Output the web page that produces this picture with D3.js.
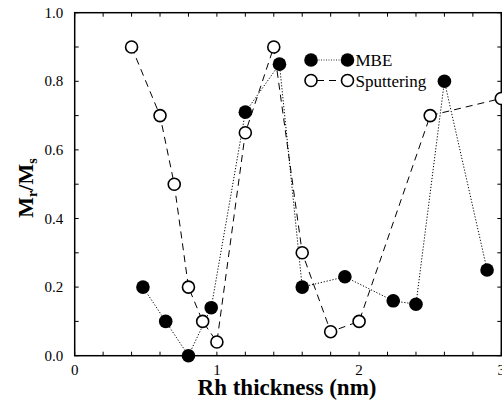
<!DOCTYPE html>
<html>
<head>
<meta charset="utf-8">
<script src="https://cdn.jsdelivr.net/npm/d3@7"></script>
<style>
  html, body { margin: 0; padding: 0; background: #fff; overflow: hidden; }
  svg { display: block; }
  text { font-family: "Liberation Serif", "DejaVu Serif", serif; }
</style>
</head>
<body>
<svg id="chart" width="502" height="404"></svg>
<script>
// Remanence ratio vs. Rh spacer thickness for two growth methods
const mbeThickness = [0.48, 0.64, 0.80, 0.96, 1.20, 1.44, 1.60, 1.90, 2.24, 2.40, 2.60, 2.90];
const mbeRatio     = [0.20, 0.10, 0.00, 0.14, 0.71, 0.85, 0.20, 0.23, 0.16, 0.15, 0.80, 0.25];

const sputThickness = [0.40, 0.60, 0.70, 0.80, 0.90, 1.00, 1.20, 1.40, 1.60, 1.80, 2.00, 2.50, 3.00];
const sputRatio     = [0.90, 0.70, 0.50, 0.20, 0.10, 0.04, 0.65, 0.90, 0.30, 0.07, 0.10, 0.70, 0.75];

const xTickLabels = [0, 1, 2, 3];
const yTickLabels = [0.0, 0.2, 0.4, 0.6, 0.8, 1.0];

const svg = d3.select("#chart");
const plotL = 74.7, plotR = 501.3, plotT = 12.7, plotB = 355.7;

const x = d3.scaleLinear().domain([0, 3]).range([plotL, plotR]);
const y = d3.scaleLinear().domain([0, 1]).range([plotB, plotT]);

// Frame
svg.append("rect")
  .attr("x", plotL).attr("y", plotT)
  .attr("width", plotR - plotL).attr("height", plotB - plotT)
  .attr("fill", "none").attr("stroke", "#000").attr("stroke-width", 1.5);

// Inward ticks on all four sides
const xMinor = d3.range(0, 3.0001, 0.2);
const yMinor = d3.range(0, 1.0001, 0.1);
const tickLen = 4;
const tg = svg.append("g").attr("stroke", "#000").attr("stroke-width", 1);
xMinor.forEach(v => {
  tg.append("line").attr("x1", x(v)).attr("x2", x(v)).attr("y1", plotB).attr("y2", plotB - tickLen);
  tg.append("line").attr("x1", x(v)).attr("x2", x(v)).attr("y1", plotT).attr("y2", plotT + tickLen);
});
yMinor.forEach(v => {
  tg.append("line").attr("y1", y(v)).attr("y2", y(v)).attr("x1", plotL).attr("x2", plotL + tickLen);
  tg.append("line").attr("y1", y(v)).attr("y2", y(v)).attr("x1", plotR).attr("x2", plotR - tickLen);
});

// Tick labels
svg.append("g").selectAll("text").data(xTickLabels).join("text")
  .attr("x", d => x(d)).attr("y", plotB + 19)
  .attr("text-anchor", "middle").attr("font-size", 15)
  .text(d => d);
svg.append("g").selectAll("text").data(yTickLabels).join("text")
  .attr("x", plotL - 11.5).attr("y", d => y(d) + 5)
  .attr("text-anchor", "end").attr("font-size", 15)
  .text(d => d.toFixed(1));

// Axis titles
svg.append("text")
  .attr("x", 287).attr("y", 395)
  .attr("text-anchor", "middle").attr("font-size", 23).attr("font-weight", "bold")
  .text("Rh thickness (nm)");

const yTitle = svg.append("text")
  .attr("transform", "translate(33, 188) rotate(-90)")
  .attr("text-anchor", "middle").attr("font-size", 22).attr("font-weight", "bold");
yTitle.append("tspan").text("M");
yTitle.append("tspan").attr("font-size", 14).attr("dy", 4).text("r");
yTitle.append("tspan").attr("dy", -4).text("/M");
yTitle.append("tspan").attr("font-size", 14).attr("dy", 4).text("s");

// Series
const line = d3.line().x(d => x(d[0])).y(d => y(d[1]));
const mbe = mbeThickness.map((t, i) => [t, mbeRatio[i]]);
const sput = sputThickness.map((t, i) => [t, sputRatio[i]]);

svg.append("path").datum(mbe).attr("d", line)
  .attr("fill", "none").attr("stroke", "#000").attr("stroke-width", 1)
  .attr("stroke-dasharray", "1.2,1.8");
svg.append("path").datum(sput).attr("d", line)
  .attr("fill", "none").attr("stroke", "#000").attr("stroke-width", 1)
  .attr("stroke-dasharray", "7,5");

svg.append("g").selectAll("circle").data(mbe).join("circle")
  .attr("cx", d => x(d[0])).attr("cy", d => y(d[1])).attr("r", 6.8)
  .attr("fill", "#000");
svg.append("g").selectAll("circle").data(sput).join("circle")
  .attr("cx", d => x(d[0])).attr("cy", d => y(d[1])).attr("r", 6)
  .attr("fill", "#fff").attr("stroke", "#000").attr("stroke-width", 1.6);

// Legend
const lg = svg.append("g");
const lx1 = 311, lx2 = 347.5, ly1 = 60, ly2 = 80.5;
lg.append("line").attr("x1", lx1).attr("x2", lx2).attr("y1", ly1).attr("y2", ly1)
  .attr("stroke", "#000").attr("stroke-width", 0.8).attr("stroke-dasharray", "1,1.5");
lg.append("circle").attr("cx", lx1).attr("cy", ly1).attr("r", 6.8).attr("fill", "#000");
lg.append("circle").attr("cx", lx2).attr("cy", ly1).attr("r", 6.8).attr("fill", "#000");
lg.append("text").attr("x", 355.5).attr("y", ly1 + 6).attr("font-size", 17).text("MBE");
lg.append("line").attr("x1", lx1).attr("x2", lx2).attr("y1", ly2).attr("y2", ly2)
  .attr("stroke", "#000").attr("stroke-dasharray", "7,5").attr("stroke-dashoffset", -6);
lg.append("circle").attr("cx", lx1).attr("cy", ly2).attr("r", 6).attr("fill", "#fff")
  .attr("stroke", "#000").attr("stroke-width", 1.6);
lg.append("circle").attr("cx", lx2).attr("cy", ly2).attr("r", 6).attr("fill", "#fff")
  .attr("stroke", "#000").attr("stroke-width", 1.6);
lg.append("text").attr("x", 355.5).attr("y", ly2 + 6).attr("font-size", 17).text("Sputtering");
</script>
</body>
</html>
